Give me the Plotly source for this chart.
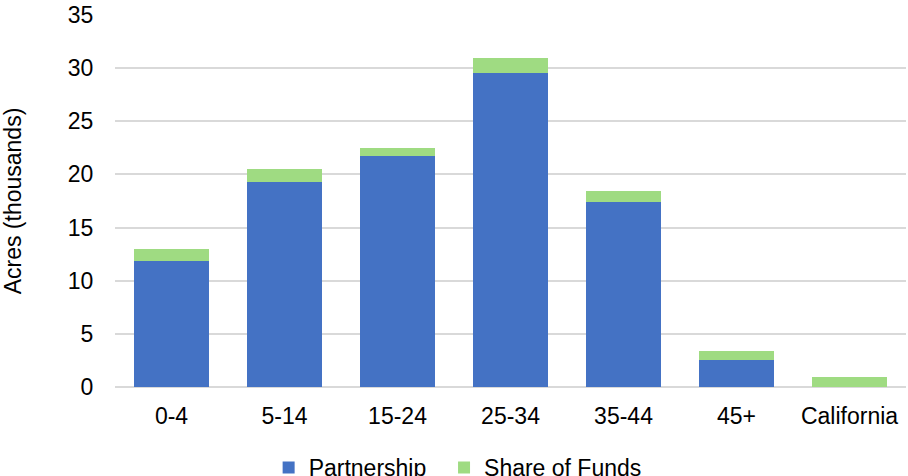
import plotly.graph_objects as go

# Acres by age group (thousands)
categories = ["0-4", "5-14", "15-24", "25-34", "35-44", "45+", "California"]
partnership = [11.9, 19.3, 21.7, 29.5, 17.4, 2.5, 0.0]
share_of_funds = [1.1, 1.2, 0.8, 1.5, 1.0, 0.9, 0.9]
y_ticks = [0, 5, 10, 15, 20, 25, 30, 35]

FONT = "Liberation Sans, Arial, sans-serif"
FS = 23
NBSP = "\u00a0"

fig = go.Figure()
fig.add_trace(go.Bar(
    x=categories, y=partnership, name="Partnership" + NBSP * 2,
    marker=dict(color="#4472c4", line=dict(width=0)),
))
fig.add_trace(go.Bar(
    x=categories, y=share_of_funds, name="Share of Funds",
    marker=dict(color="#9fdb82", line=dict(width=0)),
))

fig.update_layout(
    barmode="stack",
    bargap=0.336,
    width=908, height=476,
    margin=dict(l=115, r=2, t=15, b=89),
    paper_bgcolor="white",
    plot_bgcolor="white",
    font=dict(family=FONT, size=FS, color="#000000"),
    showlegend=True,
    legend=dict(
        orientation="h",
        xref="container", x=0.504, xanchor="center",
        yref="container", y=0.018, yanchor="middle",
        font=dict(size=FS),
        itemwidth=30,
        traceorder="normal",
    ),
    xaxis=dict(
        showgrid=False,
        showline=False,
        ticks="outside", ticklen=8, tickcolor="rgba(0,0,0,0)",
        tickfont=dict(size=FS),
    ),
    yaxis=dict(
        range=[0, 35],
        tickvals=y_ticks,
        showgrid=True, gridcolor="#d9d9d9", gridwidth=1.5,
        zeroline=True, zerolinecolor="#d9d9d9", zerolinewidth=1.5,
        showline=False,
        ticks="outside", ticklen=16, tickcolor="rgba(0,0,0,0)",
        tickfont=dict(size=FS),
        title=dict(text="Acres (thousands)", font=dict(size=FS), standoff=40),
    ),
)

fig.write_html("out.html")
